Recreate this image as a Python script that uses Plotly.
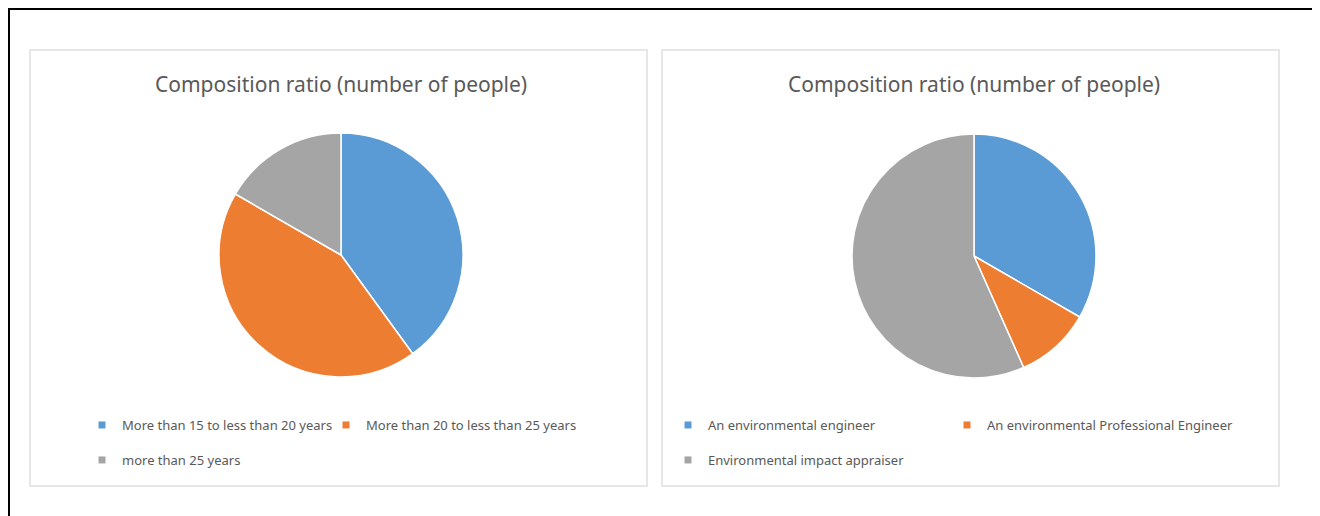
import plotly.graph_objects as go

# ---- data ----
title_text = "Composition ratio (number of people)"
left_labels = ["More than 15 to less than 20 years",
               "More than 20 to less than 25 years",
               "more than 25 years"]
left_values = [12, 13, 5]
right_labels = ["An environmental engineer",
                "An environmental Professional Engineer",
                "Environmental impact appraiser"]
right_values = [10, 3, 17]
colors = ["#5B9BD5", "#ED7D31", "#A5A5A5"]

W, H = 1320, 516
OFF = 8  # page offset of the figure inside the window


def px(x):
    return (x - OFF) / W


def py(y):
    return 1 - (y - OFF) / H


TXT = "#595959"
FONT = "Noto Sans"

fig = go.Figure()

# pies
R = 122
for labels, values, cx, cy in [(left_labels, left_values, 341, 255),
                               (right_labels, right_values, 974, 256)]:
    fig.add_trace(go.Pie(
        labels=labels, values=values, sort=False, direction="clockwise",
        rotation=0, textinfo="none", hoverinfo="label+value+percent",
        marker=dict(colors=colors, line=dict(color="white", width=1.5)),
        domain=dict(x=[px(cx - R), px(cx + R)], y=[py(cy + R), py(cy - R)]),
        showlegend=False,
    ))

# legend entries (one legend per entry so the layout matches)
legend_pos = [
    (left_labels[0], colors[0], 82, 425),
    (left_labels[1], colors[1], 326, 425),
    (left_labels[2], colors[2], 82, 460),
    (right_labels[0], colors[0], 668, 425),
    (right_labels[1], colors[1], 947, 425),
    (right_labels[2], colors[2], 668, 460),
]
layout_legends = {}
for i, (lab, col, lx, ly) in enumerate(legend_pos):
    key = "legend" if i == 0 else f"legend{i+1}"
    fig.add_trace(go.Scatter(
        x=[None], y=[None], mode="markers", name=lab,
        marker=dict(symbol="square", size=7, color=col),
        legend=key, showlegend=True, hoverinfo="skip",
    ))
    layout_legends[key] = dict(
        x=px(lx), y=py(ly), xanchor="left", yanchor="middle",
        orientation="h", bgcolor="rgba(0,0,0,0)", borderwidth=0,
        font=dict(family=FONT, size=13, color=TXT),
        itemwidth=30,
    )

shapes = [
    # outer black frame
    dict(type="rect", xref="paper", yref="paper",
         x0=px(9), x1=px(1360), y0=py(9), y1=py(560),
         line=dict(color="black", width=2)),
    # panel borders
    dict(type="rect", xref="paper", yref="paper",
         x0=px(30), x1=px(647), y0=py(50), y1=py(486),
         line=dict(color="#E6E6E6", width=2)),
    dict(type="rect", xref="paper", yref="paper",
         x0=px(662), x1=px(1279), y0=py(50), y1=py(486),
         line=dict(color="#E6E6E6", width=2)),
]

annotations = [
    dict(text=title_text, x=px(341), y=py(84), xref="paper", yref="paper",
         showarrow=False, xanchor="center", yanchor="middle",
         font=dict(family=FONT, size=21, color=TXT)),
    dict(text=title_text, x=px(974), y=py(84), xref="paper", yref="paper",
         showarrow=False, xanchor="center", yanchor="middle",
         font=dict(family=FONT, size=21, color=TXT)),
]

fig.update_layout(
    width=W, height=H,
    margin=dict(l=0, r=0, t=0, b=0, autoexpand=False),
    paper_bgcolor="white", plot_bgcolor="white",
    xaxis=dict(visible=False), yaxis=dict(visible=False),
    shapes=shapes, annotations=annotations,
    **layout_legends,
)

fig.write_html("out.html")
